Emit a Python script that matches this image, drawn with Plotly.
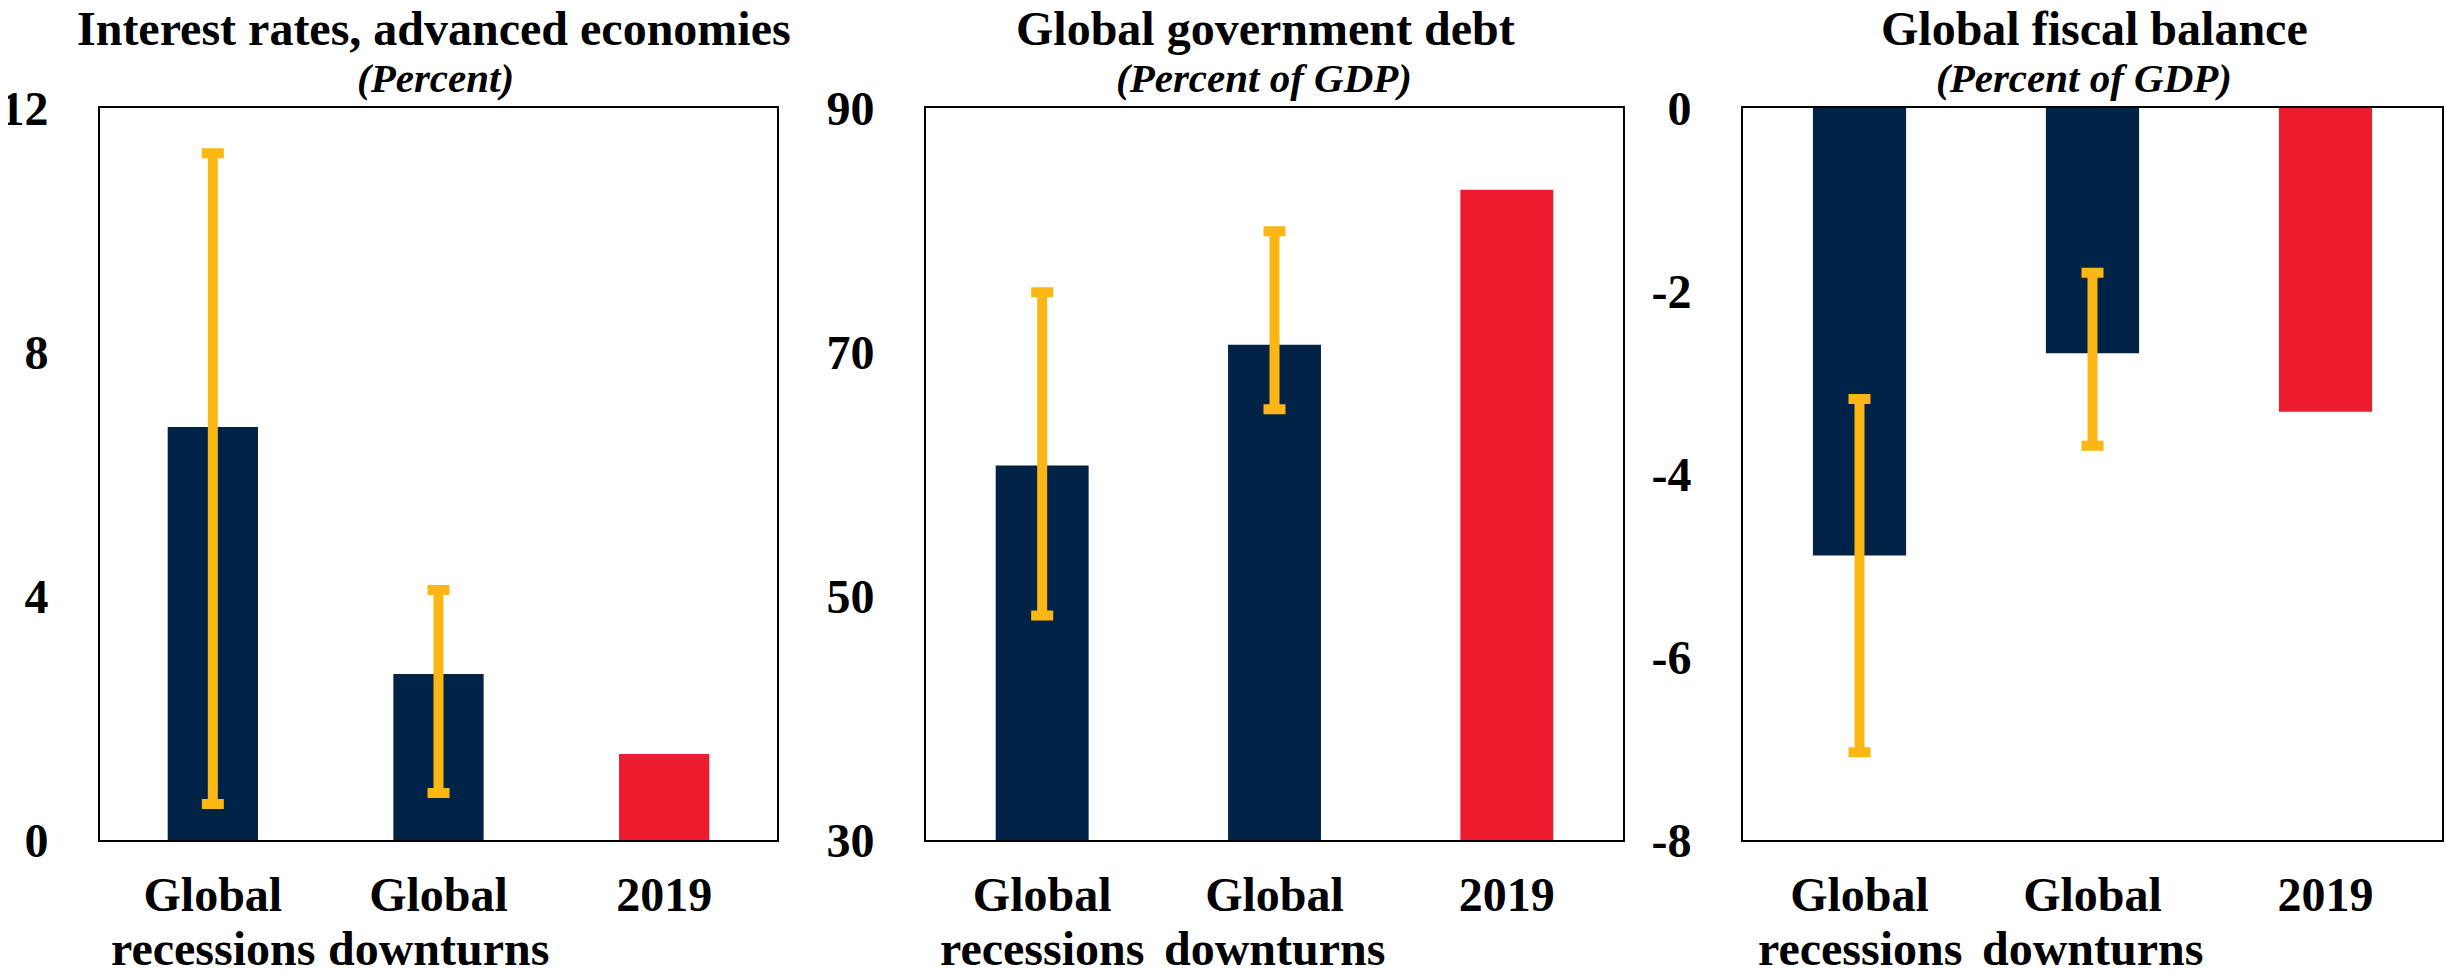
import plotly.graph_objects as go
from plotly.subplots import make_subplots

# ---------------- data ----------------
categories = ["Global recessions", "Global downturns", "2019"]
label_line1 = ["Global", "Global", "2019"]
label_line2 = ["recessions", "downturns", ""]

titles = ["Interest rates, advanced economies", "Global government debt", "Global fiscal balance"]
subtitles = ["(Percent)", "(Percent of GDP)", "(Percent of GDP)"]

rates_values = [6.77, 2.72, 1.41]
rates_low = [0.59, 0.77]
rates_high = [11.26, 4.10]

debt_values = [60.7, 70.6, 83.3]
debt_low = [48.4, 65.3]
debt_high = [74.9, 79.9]

balance_values = [-4.89, -2.68, -3.32]
balance_low = [-7.04, -3.69]
balance_high = [-3.18, -1.80]

y_ranges = [[0, 12], [30, 90], [-8, 0]]
y_tickvals = [[0, 4, 8, 12], [30, 50, 70, 90], [0, -2, -4, -6, -8]]
y_ticktext = [["0", "4", "8", "12"], ["30", "50", "70", "90"], ["0", "-2", "-4", "-6", "-8"]]

# ---------------- style ----------------
NAVY = "#002347"
RED = "#EC1C2E"
YELLOW = "#FDB714"
FONT = "Liberation Serif"

PAGE_W, PAGE_H = 2453, 971
OFF = 8  # default body margin of the html page
W, H = PAGE_W - OFF, PAGE_H - OFF


def fx(px):
    return (px - OFF) / W


def fy(py):
    return 1 - (py - OFF) / H


x_domains = [[fx(100), fx(777)], [fx(926), fx(1623)], [fx(1743), fx(2442)]]
y_domain = [fy(840), fy(108)]
title_centers = [434, 1266, 2094]
subtitle_centers = [435, 1264, 2084]

panels = [
    (rates_values, rates_low, rates_high),
    (debt_values, debt_low, debt_high),
    (balance_values, balance_low, balance_high),
]

fig = make_subplots(rows=1, cols=3)

for i, (vals, lows, highs) in enumerate(panels):
    col = i + 1
    hist_vals = vals[:2]
    err_plus = [h - v for h, v in zip(highs, hist_vals)]
    err_minus = [v - l for l, v in zip(lows, hist_vals)]
    fig.add_trace(
        go.Bar(
            x=categories[:2],
            y=hist_vals,
            marker=dict(color=NAVY, line=dict(width=0)),
            error_y=dict(
                type="data",
                symmetric=False,
                array=err_plus,
                arrayminus=err_minus,
                color=YELLOW,
                thickness=10,
                width=11,
            ),
            showlegend=False,
        ),
        row=1,
        col=col,
    )
    fig.add_trace(
        go.Bar(
            x=categories[2:],
            y=vals[2:],
            marker=dict(color=RED, line=dict(width=0)),
            showlegend=False,
        ),
        row=1,
        col=col,
    )

    xname = "xaxis" if i == 0 else f"xaxis{col}"
    yname = "yaxis" if i == 0 else f"yaxis{col}"
    xref = "x" if i == 0 else f"x{col}"
    fig.layout[xname].update(
        domain=x_domains[i],
        type="category",
        categoryorder="array",
        categoryarray=categories,
        tickvals=categories,
        ticktext=label_line1,
        showline=True,
        linecolor="black",
        linewidth=2,
        mirror=True,
        showgrid=False,
        zeroline=False,
        ticks="",
        automargin=False,
        tickfont=dict(family=FONT, size=48, color="black", weight="bold"),
        ticklabelstandoff=11,
    )
    fig.layout[yname].update(
        domain=y_domain,
        range=y_ranges[i],
        tickvals=y_tickvals[i],
        ticktext=y_ticktext[i],
        showline=True,
        linecolor="black",
        linewidth=2,
        mirror=True,
        showgrid=False,
        zeroline=False,
        ticks="",
        automargin=False,
        tickfont=dict(family=FONT, size=48, color="black", weight="bold"),
        ticklabelstandoff=40,
    )

    # second line of the category labels
    for cat, line2 in zip(categories, label_line2):
        if line2:
            fig.add_annotation(
                text=f"<b>{line2}</b>",
                x=cat, xref=xref, y=fy(948), yref="paper",
                xanchor="center", yanchor="middle", showarrow=False,
                font=dict(family=FONT, size=48, color="black"),
            )

    fig.add_annotation(
        text=f"<b>{titles[i]}</b>",
        x=fx(title_centers[i]), y=fy(28), xref="paper", yref="paper",
        xanchor="center", yanchor="middle", showarrow=False,
        font=dict(family=FONT, size=48, color="black"),
    )
    fig.add_annotation(
        text=f"<b><i>{subtitles[i]}</i></b>",
        x=fx(subtitle_centers[i]), y=fy(78), xref="paper", yref="paper",
        xanchor="center", yanchor="middle", showarrow=False,
        font=dict(family=FONT, size=41, color="black"),
    )

fig.update_layout(
    width=W,
    height=H,
    autosize=False,
    margin=dict(l=0, r=0, t=0, b=0, autoexpand=False),
    paper_bgcolor="white",
    plot_bgcolor="white",
    barmode="overlay",
    bargap=0.6,
    font=dict(family=FONT, color="black"),
)

fig.write_html("out.html")
